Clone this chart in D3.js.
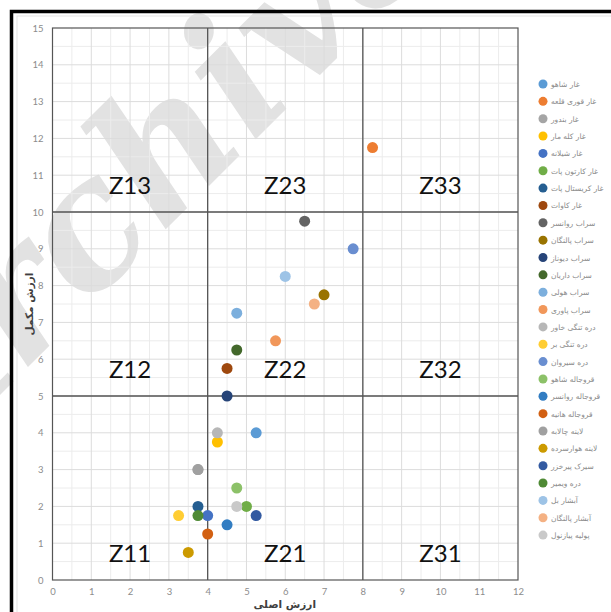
<!DOCTYPE html>
<html>
<head>
<meta charset="utf-8">
<script src="https://cdn.jsdelivr.net/npm/d3@7"></script>
<style>
body { margin: 0; background: #fff; }
</style>
</head>
<body>
<div id="chart"></div>
<script>
// site names (legend order)
var names = ["غار شاهو", "غار قوری قلعه", "غار بندور", "غار کله مار", "غار شیلانه",
    "غار کارتون پات", "غار کریستال پات", "غار کاوات", "سراب روانسر", "سراب پالنگان",
    "سراب دیوناز", "سراب داریان", "سراب هولی", "سراب پاوری", "دره تنگی خاور",
    "دره تنگی بر", "دره سیروان", "قروجاله شاهو", "قروجاله روانسر", "قروجاله هانیه",
    "لاینه چالابه", "لاینه هوارسرده", "سیرک پیرخزر", "دره ویمیر", "آبشار بل",
    "آبشار پالنگان", "پولیه پیازنول"];

// main value (x) and complementary value (y)
var mainValue = [5.25, 8.25, 3.75, 4.25, 4, 5, 3.75, 4.5, 6.5, 7,
    4.5, 4.75, 4.75, 5.75, 4.25, 3.25, 7.75, 4.75, 4.5, 4,
    3.75, 3.5, 5.25, 3.75, 6, 6.75, 4.75];
var compValue = [4, 11.75, 3, 3.75, 1.75, 2, 2, 5.75, 9.75, 7.75,
    5, 6.25, 7.25, 6.5, 4, 1.75, 9, 2.5, 1.5, 1.25,
    3, 0.75, 1.75, 1.75, 8.25, 7.5, 2];

var colors = ["#5B9BD5", "#ED7D31", "#A5A5A5", "#FFC000", "#4472C4",
    "#70AD47", "#255E91", "#9E480E", "#636363", "#997300",
    "#264478", "#43682B", "#7CAFDD", "#F1975A", "#B7B7B7",
    "#FFCD33", "#698ED0", "#8CC168", "#327DC2", "#D26012",
    "#A0A0A0", "#CC9A00", "#335AA1", "#4F8A35", "#9DC3E6",
    "#F4B183", "#C9C9C9"];

var zones = [
    { name: "Z11", x: 2, y: 0.5 }, { name: "Z21", x: 6, y: 0.5 }, { name: "Z31", x: 10, y: 0.5 },
    { name: "Z12", x: 2, y: 5.5 }, { name: "Z22", x: 6, y: 5.5 }, { name: "Z32", x: 10, y: 5.5 },
    { name: "Z13", x: 2, y: 10.5 }, { name: "Z23", x: 6, y: 10.5 }, { name: "Z33", x: 10, y: 10.5 }
];
var zoneLines = [4, 8];      // x
var zoneLinesY = [5, 10];    // y

var W = 611, H = 612;
var margin = { top: 28, right: 93, bottom: 32, left: 52.5 };

var svg = d3.select("#chart")
    .append("svg")
    .attr("width", W)
    .attr("height", H);

// watermark goes under the chart
svg.append("text")
    .attr("transform", "translate(-75,470) rotate(-45)")
    .attr("font-family", "DejaVu Serif")
    .attr("font-style", "italic")
    .attr("font-weight", "bold")
    .attr("font-size", 175)
    .attr("fill", "#cfcfcf")
    .attr("opacity", 0.6)
    .text("Archive");

// outer frame
svg.append("rect")
    .attr("x", 17).attr("y", 16)
    .attr("width", W).attr("height", H)
    .attr("fill", "none")
    .attr("stroke", "#e3e3e3");
svg.append("path")
    .attr("d", "M11.5," + H + "V11.5H" + W)
    .attr("fill", "none")
    .attr("stroke", "#000")
    .attr("stroke-width", 3.5);

var x = d3.scaleLinear().domain([0, 12]).range([margin.left, W - margin.right]);
var y = d3.scaleLinear().domain([0, 15]).range([H - margin.bottom, margin.top]);

var g = svg.append("g");

// minor + major grid
var xMinor = d3.range(0.5, 12, 1), yMinor = d3.range(0.5, 15, 1);
g.selectAll(".vminor").data(xMinor).enter().append("line")
    .attr("x1", d => x(d)).attr("x2", d => x(d))
    .attr("y1", y(0)).attr("y2", y(15))
    .attr("stroke", "#ececec");
g.selectAll(".hminor").data(yMinor).enter().append("line")
    .attr("y1", d => y(d)).attr("y2", d => y(d))
    .attr("x1", x(0)).attr("x2", x(12))
    .attr("stroke", "#ececec");
g.selectAll(".vmajor").data(d3.range(1, 12)).enter().append("line")
    .attr("x1", d => x(d)).attr("x2", d => x(d))
    .attr("y1", y(0)).attr("y2", y(15))
    .attr("stroke", "#dcdcdc");
g.selectAll(".hmajor").data(d3.range(1, 15)).enter().append("line")
    .attr("y1", d => y(d)).attr("y2", d => y(d))
    .attr("x1", x(0)).attr("x2", x(12))
    .attr("stroke", "#dcdcdc");

// zone dividers
g.selectAll(".zx").data(zoneLines).enter().append("line")
    .attr("x1", d => x(d)).attr("x2", d => x(d))
    .attr("y1", y(0)).attr("y2", y(15))
    .attr("stroke", "#555").attr("stroke-width", 1.3);
g.selectAll(".zy").data(zoneLinesY).enter().append("line")
    .attr("y1", d => y(d)).attr("y2", d => y(d))
    .attr("x1", x(0)).attr("x2", x(12))
    .attr("stroke", "#555").attr("stroke-width", 1.3);

// plot border
g.append("rect")
    .attr("x", x(0)).attr("y", y(15))
    .attr("width", x(12) - x(0)).attr("height", y(0) - y(15))
    .attr("fill", "none").attr("stroke", "#555").attr("stroke-width", 1.2);

// axes (labels only)
var xAxis = svg.append("g")
    .attr("transform", "translate(0," + y(0) + ")")
    .call(d3.axisBottom(x).ticks(12).tickSize(0).tickPadding(8));
var yAxis = svg.append("g")
    .attr("transform", "translate(" + x(0) + ",0)")
    .call(d3.axisLeft(y).ticks(15).tickSize(0).tickPadding(9));
[xAxis, yAxis].forEach(function (a) {
    a.select(".domain").remove();
    a.selectAll("text")
        .attr("fill", "#8c8c8c")
        .attr("font-family", "Lato, 'Open Sans', sans-serif")
        .attr("font-size", 9.5);
});

// zone labels
svg.selectAll(".zone").data(zones).enter().append("text")
    .attr("x", d => x(d.x))
    .attr("y", d => y(d.y))
    .attr("text-anchor", "middle")
    .attr("font-family", "Lato, 'Open Sans', sans-serif")
    .attr("font-size", 24)
    .attr("fill", "#111")
    .text(d => d.name);

// points
svg.selectAll(".pt").data(names).enter().append("circle")
    .attr("cx", (d, i) => x(mainValue[i]))
    .attr("cy", (d, i) => y(compValue[i]))
    .attr("r", 5.5)
    .attr("fill", (d, i) => colors[i]);

// axis titles
svg.append("text")
    .attr("x", (x(0) + x(12)) / 2 - 0.5)
    .attr("y", 608)
    .attr("text-anchor", "middle")
    .attr("font-family", "'DejaVu Sans', sans-serif")
    .attr("font-weight", "bold")
    .attr("font-size", 10.5)
    .attr("fill", "#404040")
    .text("ارزش اصلی");
svg.append("text")
    .attr("transform", "translate(33," + (y(7.5)) + ") rotate(-90)")
    .attr("text-anchor", "middle")
    .attr("font-family", "'DejaVu Sans', sans-serif")
    .attr("font-weight", "bold")
    .attr("font-size", 10.5)
    .attr("fill", "#404040")
    .text("ارزش مکمل");

// legend
var legend = svg.selectAll(".leg").data(names).enter().append("g")
    .attr("transform", (d, i) => "translate(543," + (84 + i * 17.35) + ")");
legend.append("circle")
    .attr("r", 4.5)
    .attr("fill", (d, i) => colors[i]);
legend.append("text")
    .attr("x", 8)
    .attr("y", 3)
    .attr("font-family", "'DejaVu Sans', sans-serif")
    .attr("font-size", 7.5)
    .attr("fill", "#8a8a8a")
    .text(d => d);
</script>
</body>
</html>
